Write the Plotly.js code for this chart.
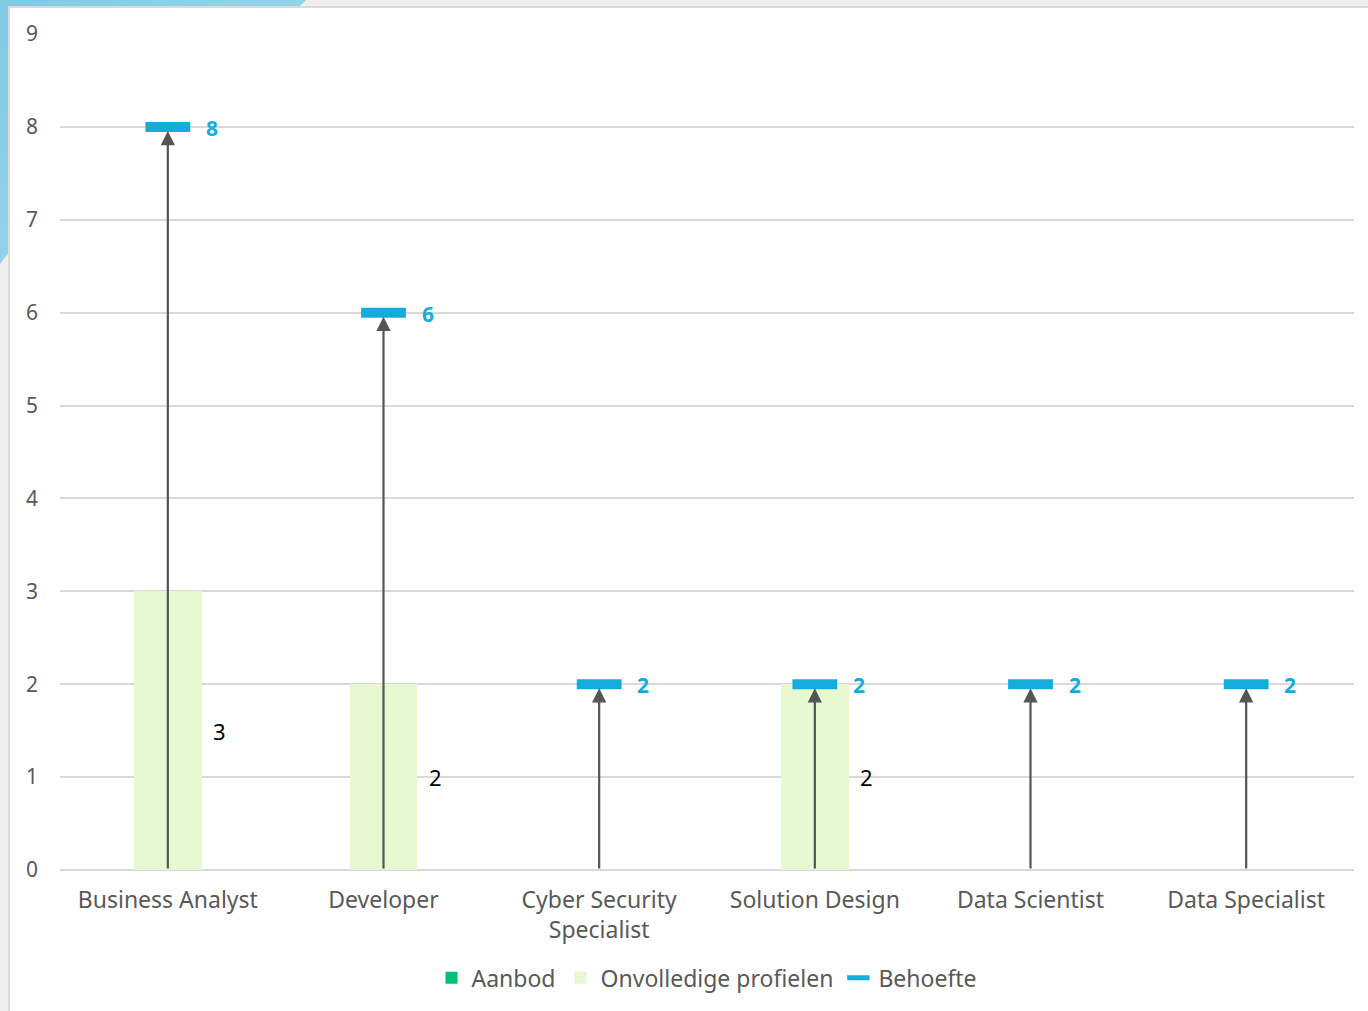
<!DOCTYPE html>
<html>
<head>
<meta charset="utf-8">
<script src="https://cdn.plot.ly/plotly-3.0.1.min.js"></script>
<style>
html,body{margin:0;padding:0;width:1368px;height:1011px;overflow:hidden;background:#efefef;}
#deco{position:absolute;left:0;top:0;width:320px;height:280px;background:linear-gradient(135deg,#7fcbe4,#a6dcee);
clip-path:polygon(0 0,306px 0,300px 6px,8px 6px,8px 254px,0 264px);}
#panel{position:absolute;left:8px;top:6px;right:0;bottom:0;background:#fff;border-left:2px solid #dadada;border-top:2px solid #dadada;}
#chart{position:absolute;left:0;top:0;width:1368px;height:1011px;}
</style>
</head>
<body>
<div id="deco"></div>
<div id="panel"></div>
<div id="chart"></div>
<script>
const categories = ["Business Analyst", "Developer", "Cyber Security<br>Specialist", "Solution Design", "Data Scientist", "Data Specialist"];
const aanbod = [0, 0, 0, 0, 0, 0];
const onvolledig = [3, 2, 0, 2, 0, 0];
const behoefte = [8, 6, 2, 2, 2, 2];
const yTicks = [0, 1, 2, 3, 4, 5, 6, 7, 8, 9];

const FONT = "Noto Sans, Open Sans, sans-serif";
const GREY = "#595959";
const BLUE = "#13acdc";

const traces = [
  {type: "bar", name: "Aanbod", x: categories, y: aanbod, marker: {color: "#00c176"}, width: 0.315, hoverinfo: "skip"},
  {type: "bar", name: "Onvolledige profielen", x: categories, y: onvolledig, marker: {color: "#e8f8d0"}, width: 0.315, hoverinfo: "skip"},
  {type: "scatter", mode: "markers", name: "Behoefte", x: categories, y: behoefte,
   marker: {symbol: "line-ew", size: 32, color: BLUE, line: {color: BLUE, width: 10}},
   cliponaxis: false, hoverinfo: "skip"}
];

const annotations = [];
categories.forEach((c, i) => {
  annotations.push({x: c, y: behoefte[i], ax: c, ay: 0, axref: "x", ayref: "y", xref: "x", yref: "y",
    text: "", showarrow: true, arrowhead: 2, arrowsize: 1.3, arrowwidth: 2.2, arrowcolor: "#555555", standoff: 4});
  annotations.push({x: c, y: behoefte[i], xref: "x", yref: "y", text: "<b>" + behoefte[i] + "</b>",
    showarrow: false, xshift: 44, yshift: -1, font: {family: FONT, size: 21, color: BLUE}});
  if (onvolledig[i] > 0) {
    annotations.push({x: c, y: onvolledig[i] / 2, xref: "x", yref: "y", text: String(onvolledig[i]),
      showarrow: false, xshift: 52, font: {family: FONT, size: 22, color: "#000"}});
  }
});

const layout = {
  width: 1368, height: 1011,
  paper_bgcolor: "rgba(0,0,0,0)", plot_bgcolor: "rgba(0,0,0,0)",
  margin: {l: 60, r: 14, t: 34, b: 141},
  barmode: "stack",
  showlegend: true,
  font: {family: FONT, color: GREY},
  xaxis: {type: "category", showgrid: false, zeroline: false, showline: false, ticks: "",
    ticklabelstandoff: 14, tickfont: {family: FONT, size: 23, color: GREY}, fixedrange: true},
  yaxis: {range: [0, 9], tickvals: yTicks, showgrid: true, gridcolor: "#d9d9d9", gridwidth: 2,
    zeroline: true, zerolinecolor: "#d9d9d9", zerolinewidth: 2, showline: false, ticks: "",
    ticklabelstandoff: 21, tickfont: {family: FONT, size: 21, color: GREY}, fixedrange: true},
  legend: {orientation: "h", x: 0.5, xanchor: "center", y: -0.129, yanchor: "middle",
    font: {family: FONT, size: 23, color: GREY}, itemwidth: 30, traceorder: "normal"},
  annotations: annotations
};

Plotly.newPlot("chart", traces, layout, {displayModeBar: false, staticPlot: true});
</script>
</body>
</html>
